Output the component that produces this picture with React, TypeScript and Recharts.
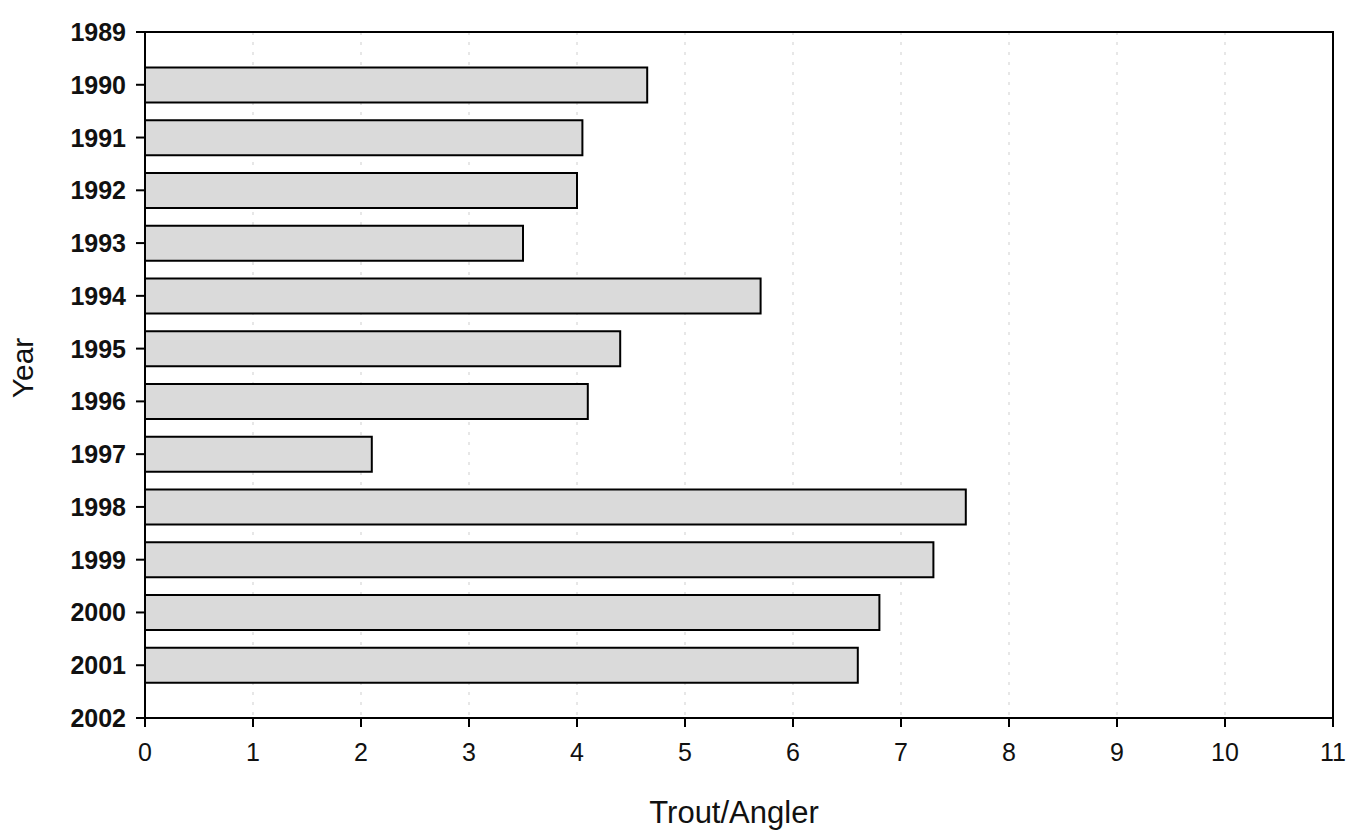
import React from 'react';
import {
  BarChart,
  Bar,
  XAxis,
  YAxis,
  CartesianGrid,
  ReferenceArea,
} from 'recharts';

const years = [1990, 1991, 1992, 1993, 1994, 1995, 1996, 1997, 1998, 1999, 2000, 2001];
const troutPerAngler = [4.65, 4.05, 4.0, 3.5, 5.7, 4.4, 4.1, 2.1, 7.6, 7.3, 6.8, 6.6];
const yearTicks = [1989, 1990, 1991, 1992, 1993, 1994, 1995, 1996, 1997, 1998, 1999, 2000, 2001, 2002];
const xTicks = [0, 1, 2, 3, 4, 5, 6, 7, 8, 9, 10, 11];

const data = years.map((year, i) => ({ year, value: troutPerAngler[i] }));

const font = '"Liberation Sans", Arial, sans-serif';

const XTick = (props: any) => (
  <text x={props.x} y={props.y} dy={28} textAnchor="middle" fontSize={25} fontFamily={font} fill="#111">
    {props.payload.value}
  </text>
);

const YTick = (props: any) => (
  <text x={props.x} y={props.y} dy={9} textAnchor="end" fontSize={25} fontWeight="bold" fontFamily={font} fill="#111">
    {props.payload.value}
  </text>
);

const XLabel = (props: any) => {
  const { x, width } = props.viewBox;
  return (
    <text x={x + width / 2 - 5} y={823} textAnchor="middle" fontSize={31} fontFamily={font} fill="#111">
      Trout/Angler
    </text>
  );
};

const YLabel = (props: any) => {
  const { y, height } = props.viewBox;
  const cy = y + height / 2 - 7;
  return (
    <text x={33} y={cy} transform={`rotate(-90 33 ${cy})`} textAnchor="middle" fontSize={30} fontFamily={font} fill="#111">
      Year
    </text>
  );
};

export default function App() {
  return (
    <div style={{ position: 'absolute', left: 0, top: 0, background: '#fff', fontFamily: font }}>
      <BarChart
        width={1346}
        height={834}
        data={data}
        layout="vertical"
        margin={{ top: 32, right: 13, bottom: 0, left: 45 }}
      >
        <CartesianGrid horizontal={false} stroke="#cfcfcf" strokeDasharray="3 7" />
        <XAxis
          type="number"
          domain={[0, 11]}
          ticks={xTicks}
          interval={0}
          height={116}
          tickSize={9}
          tickMargin={6}
          axisLine={{ stroke: '#000', strokeWidth: 2 }}
          tickLine={{ stroke: '#000', strokeWidth: 2 }}
          tick={<XTick />}
          label={<XLabel />}
        />
        <YAxis
          type="number"
          dataKey="year"
          domain={[1989, 2002]}
          ticks={yearTicks}
          interval={0}
          width={100}
          tickSize={9}
          tickMargin={10}
          axisLine={{ stroke: '#000', strokeWidth: 2 }}
          tickLine={{ stroke: '#000', strokeWidth: 2 }}
          tick={<YTick />}
          label={<YLabel />}
        />
        <ReferenceArea x1={0} x2={11} y1={1989} y2={2002} fill="none" stroke="#000" strokeWidth={2} />
        <Bar
          dataKey="value"
          barSize={35}
          fill="#dadada"
          stroke="#000"
          strokeWidth={2}
          isAnimationActive={false}
        />
      </BarChart>
    </div>
  );
}
